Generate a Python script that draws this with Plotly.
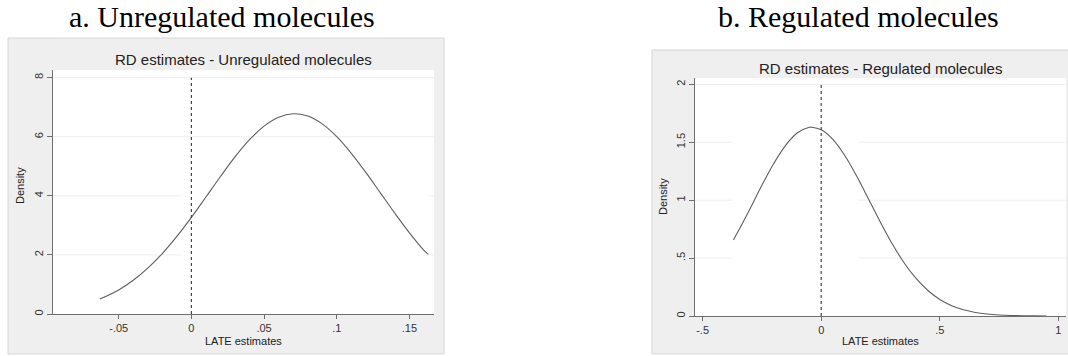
import plotly.graph_objects as go

# --- data -------------------------------------------------------------
# Panel a: density of LATE estimates, unregulated molecules
late_unreg = [-0.063, -0.05, -0.04, -0.03, -0.02, -0.01, 0.00, 0.01, 0.02, 0.03,
              0.04, 0.05, 0.06, 0.07, 0.08, 0.09, 0.10, 0.11, 0.12, 0.13,
              0.14, 0.15, 0.16, 0.163]
dens_unreg = [0.505, 0.816, 1.141, 1.551, 2.047, 2.625, 3.271, 3.960, 4.655, 5.318,
              5.900, 6.361, 6.662, 6.779, 6.701, 6.435, 6.003, 5.440, 4.792, 4.100,
              3.407, 2.749, 2.156, 2.02]

# Panel b: density of LATE estimates, regulated molecules
late_reg = [-0.37, -0.35, -0.30, -0.25, -0.20, -0.15, -0.10, -0.05, -0.04, 0.00,
            0.05, 0.10, 0.15, 0.20, 0.25, 0.30, 0.35, 0.40, 0.45, 0.50,
            0.55, 0.60, 0.65, 0.70, 0.75, 0.80, 0.85, 0.90, 0.95]
dens_reg = [0.657, 0.731, 0.927, 1.128, 1.317, 1.474, 1.582, 1.629, 1.630, 1.608,
            1.523, 1.384, 1.206, 1.008, 0.808, 0.621, 0.458, 0.324, 0.220, 0.143,
            0.0894, 0.0535, 0.0307, 0.0169, 0.0089, 0.0045, 0.0022, 0.0010, 0.0005]

# Axis ticks
xticks_a = [-0.05, 0, 0.05, 0.1, 0.15]
xticklabels_a = ["-.05", "0", ".05", ".1", ".15"]
yticks_a = [0, 2, 4, 6, 8]
yticklabels_a = ["0", "2", "4", "6", "8"]

xticks_b = [-0.5, 0, 0.5, 1]
xticklabels_b = ["-.5", "0", ".5", "1"]
yticks_b = [0, 0.5, 1, 1.5, 2]
yticklabels_b = ["0", ".5", "1", "1.5", "2"]

W, H = 1068, 356


def px_x(v):
    return v / W


def px_y(v):
    return 1 - v / H


# pixel layout of the two graph regions
A_BOX = (8, 38, 444, 354)
A_PLOT = (53, 70, 434, 314)
B_BOX = (652, 50, 1070, 354)
B_PLOT = (695, 78, 1066, 316)

CURVE = "#5e5e5e"
AXIS = "#6e6e6e"
GRID = "#eeeeee"
BOXFILL = "#efefef"
BOXLINE = "#d6d6d6"
SANS = "Liberation Sans, Arial, sans-serif"
SERIF = "Liberation Serif, Times New Roman, serif"

fig = go.Figure()
fig.add_trace(go.Scatter(x=late_unreg, y=dens_unreg, mode="lines",
                         line=dict(color=CURVE, width=1.1, shape="spline"),
                         xaxis="x", yaxis="y", showlegend=False, hoverinfo="skip"))
fig.add_trace(go.Scatter(x=late_reg, y=dens_reg, mode="lines",
                         line=dict(color=CURVE, width=1.1, shape="spline"),
                         xaxis="x2", yaxis="y2", showlegend=False, hoverinfo="skip"))

shapes = []
# outer grey graph regions and white plot regions
for box, plot in ((A_BOX, A_PLOT), (B_BOX, B_PLOT)):
    shapes.append(dict(type="rect", xref="paper", yref="paper", layer="below",
                       x0=px_x(box[0]), x1=px_x(box[2]), y0=px_y(box[3]), y1=px_y(box[1]),
                       fillcolor=BOXFILL, line=dict(color=BOXLINE, width=1)))
    shapes.append(dict(type="rect", xref="paper", yref="paper", layer="below",
                       x0=px_x(plot[0]), x1=px_x(plot[2]), y0=px_y(plot[3]), y1=px_y(plot[1]),
                       fillcolor="white", line=dict(width=0)))


def grid_segment(xr, yr, x0, x1, y):
    shapes.append(dict(type="line", xref=xr, yref=yr, layer="below",
                       x0=x0, x1=x1, y0=y, y1=y, line=dict(color=GRID, width=1)))


# panel a gridlines (lower lines are interrupted in the middle)
a_xmin, a_xmax = -0.0952, 0.1669
for yv in (6, 8):
    grid_segment("x", "y", a_xmin, a_xmax, yv)
for yv in (2, 4):
    grid_segment("x", "y", a_xmin, -0.007, yv)
    grid_segment("x", "y", 0.1628, a_xmax, yv)

# panel b gridlines
b_xmin, b_xmax = -0.532, 1.032
grid_segment("x2", "y2", b_xmin, b_xmax, 2)
for yv in (0.5, 1, 1.5):
    grid_segment("x2", "y2", b_xmin, -0.375, yv)
    grid_segment("x2", "y2", 0.156, b_xmax, yv)

# reference lines at zero
shapes.append(dict(type="line", xref="x", yref="y", x0=0, x1=0, y0=0, y1=8,
                   line=dict(color="#444444", width=1.2, dash="dot")))
shapes.append(dict(type="line", xref="x2", yref="y2", x0=0, x1=0, y0=0, y1=2,
                   line=dict(color="#444444", width=1.2, dash="dot")))

tickfont = dict(family=SANS, size=11, color="#333333")
common_x = dict(showgrid=False, zeroline=False, showline=True, linecolor=AXIS, linewidth=1,
                ticks="outside", ticklen=4, tickcolor=AXIS, tickfont=tickfont,
                tickmode="array", fixedrange=True)
common_y = dict(showgrid=False, zeroline=False, showline=True, linecolor=AXIS, linewidth=1,
                ticks="outside", ticklen=5, tickcolor=AXIS, tickfont=tickfont,
                tickmode="array", tickangle=-90, fixedrange=True)

fig.update_layout(
    width=W, height=H, margin=dict(l=0, r=0, t=0, b=0),
    paper_bgcolor="white", plot_bgcolor="rgba(0,0,0,0)",
    xaxis=dict(common_x, domain=[px_x(A_PLOT[0]), px_x(A_PLOT[2])], range=[a_xmin, a_xmax],
               tickvals=xticks_a, ticktext=xticklabels_a, anchor="y"),
    yaxis=dict(common_y, domain=[px_y(A_PLOT[3]), px_y(A_PLOT[1])], range=[0, 8.26],
               tickvals=yticks_a, ticktext=yticklabels_a, anchor="x"),
    xaxis2=dict(common_x, domain=[px_x(B_PLOT[0]), px_x(B_PLOT[2])], range=[b_xmin, b_xmax],
                tickvals=xticks_b, ticktext=xticklabels_b, anchor="y2"),
    yaxis2=dict(common_y, domain=[px_y(B_PLOT[3]), px_y(B_PLOT[1])], range=[0, 2.055],
                tickvals=yticks_b, ticktext=yticklabels_b, anchor="x2"),
    shapes=shapes,
)

ann = []


def text(x, y, s, size, family, color, angle=0):
    ann.append(dict(xref="paper", yref="paper", x=px_x(x), y=px_y(y), text=s,
                    showarrow=False, xanchor="center", yanchor="middle",
                    textangle=angle, font=dict(family=family, size=size, color=color)))


# panel headings
text(222, 17, "a. Unregulated molecules", 30, SERIF, "#000000")
text(858, 17, "b. Regulated molecules", 30, SERIF, "#000000")
# graph titles
text(243, 59, "RD estimates - Unregulated molecules", 15, SANS, "#222222")
text(880, 68, "RD estimates - Regulated molecules", 15, SANS, "#222222")
# axis titles
text(243, 341, "LATE estimates", 11, SANS, "#222222")
text(880, 341, "LATE estimates", 11, SANS, "#222222")
text(20, 186, "Density", 11, SANS, "#222222", -90)
text(663, 197, "Density", 11, SANS, "#222222", -90)

fig.update_layout(annotations=ann)
fig.write_html("out.html")
